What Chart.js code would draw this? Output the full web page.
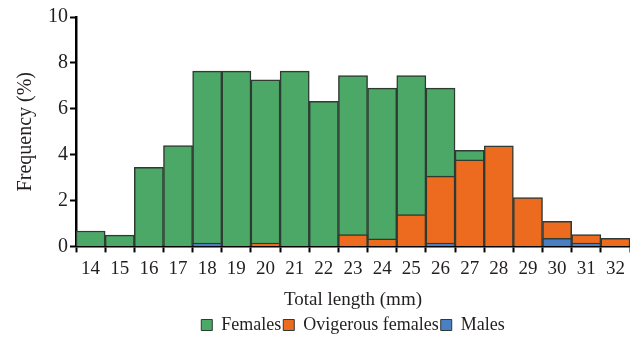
<!DOCTYPE html>
<html>
<head>
<meta charset="utf-8">
<script src="https://cdn.jsdelivr.net/npm/chart.js@4/dist/chart.umd.min.js"></script>
<style>
  html, body { margin: 0; padding: 0; background: #fff; }
  #wrap { width: 630px; height: 337px; position: relative; }
</style>
</head>
<body>
<div id="wrap"><canvas id="chart"></canvas></div>
<script>
// Total length classes (mm)
const lengths = ["14", "15", "16", "17", "18", "19", "20", "21", "22", "23", "24", "25", "26", "27", "28", "29", "30", "31", "32"];

// Frequency (%) per class
const females =    [0.67, 0.49, 3.45, 4.39, 7.64, 7.64, 7.26, 7.64, 6.32, 7.45, 6.9, 7.45, 6.9, 4.19, 0, 0, 0, 0, 0];
const ovigerous =  [0, 0, 0, 0, 0, 0, 0.15, 0, 0, 0.51, 0.33, 1.39, 3.06, 3.77, 4.38, 2.13, 1.09, 0.51, 0.35];
const males =      [0, 0, 0, 0, 0.15, 0, 0, 0, 0, 0, 0, 0, 0.15, 0, 0, 0, 0.35, 0.15, 0];

const yTicks = [0, 2, 4, 6, 8, 10];

const serif = "'Liberation Serif'";
const textColor = "#231f20";
const edge = "#2f3a33";

function drawChart() {
  const ctx = document.getElementById("chart").getContext("2d");

  new Chart(ctx, {
    type: "bar",
    data: {
      labels: lengths,
      datasets: [
        {
          label: "Females",
          data: females,
          backgroundColor: "#4ba866",
          borderColor: edge,
          borderWidth: 1.5,
          order: 3
        },
        {
          label: "Ovigerous females",
          data: ovigerous,
          backgroundColor: "#ec6b1e",
          borderColor: edge,
          borderWidth: 1.5,
          order: 2
        },
        {
          label: "Males",
          data: males,
          backgroundColor: "#4a7fc4",
          borderColor: edge,
          borderWidth: 1.5,
          order: 1
        }
      ]
    },
    options: {
      responsive: true,
      maintainAspectRatio: false,
      animation: false,
      layout: { padding: { top: 17, right: 0, left: 14, bottom: -7 } },
      datasets: {
        bar: { barPercentage: 1, categoryPercentage: 1, grouped: false }
      },
      plugins: {
        tooltip: { enabled: false },
        legend: {
          position: "bottom",
          fullSize: false,
          labels: {
            font: { family: serif, size: 18 },
            color: textColor,
            boxWidth: 11,
            boxHeight: 11,
            padding: 2,
            generateLabels: (chart) =>
              chart.data.datasets.map((ds, i) => ({
                text: ds.label,
                fillStyle: ds.backgroundColor,
                strokeStyle: edge,
                lineWidth: 1,
                fontColor: textColor,
                datasetIndex: i
              }))
          }
        }
      },
      scales: {
        x: {
          offset: true,
          grid: {
            offset: true,
            drawOnChartArea: false,
            drawTicks: true,
            tickLength: 6,
            tickWidth: 2,
            tickColor: "#000"
          },
          border: { color: "#000", width: 2.5 },
          ticks: {
            font: { family: serif, size: 19 },
            color: textColor,
            padding: 5,
            maxRotation: 0,
            autoSkip: false
          },
          title: {
            display: true,
            text: "Total length (mm)",
            font: { family: serif, size: 19 },
            color: textColor,
            padding: { top: 3, bottom: 3 }
          }
        },
        y: {
          min: 0,
          max: 10,
          afterBuildTicks: (scale) => {
            scale.ticks = yTicks.map((v) => ({ value: v }));
          },
          grid: {
            drawOnChartArea: false,
            drawTicks: true,
            tickLength: 6,
            tickWidth: 2,
            tickColor: "#000"
          },
          border: { color: "#000", width: 2.5 },
          ticks: {
            font: { family: serif, size: 20 },
            color: textColor,
            padding: 2
          },
          title: {
            display: true,
            text: "Frequency (%)",
            font: { family: serif, size: 20 },
            color: textColor,
            padding: { top: 0, bottom: 8 }
          }
        }
      }
    }
  });
}

// wait for the serif face so the single (non-animated) draw uses it
Promise.all([
  document.fonts.load("18px 'Liberation Serif'"),
  document.fonts.load("19px 'Liberation Serif'"),
  document.fonts.load("20px 'Liberation Serif'")
]).then(drawChart, drawChart);
</script>
</body>
</html>
